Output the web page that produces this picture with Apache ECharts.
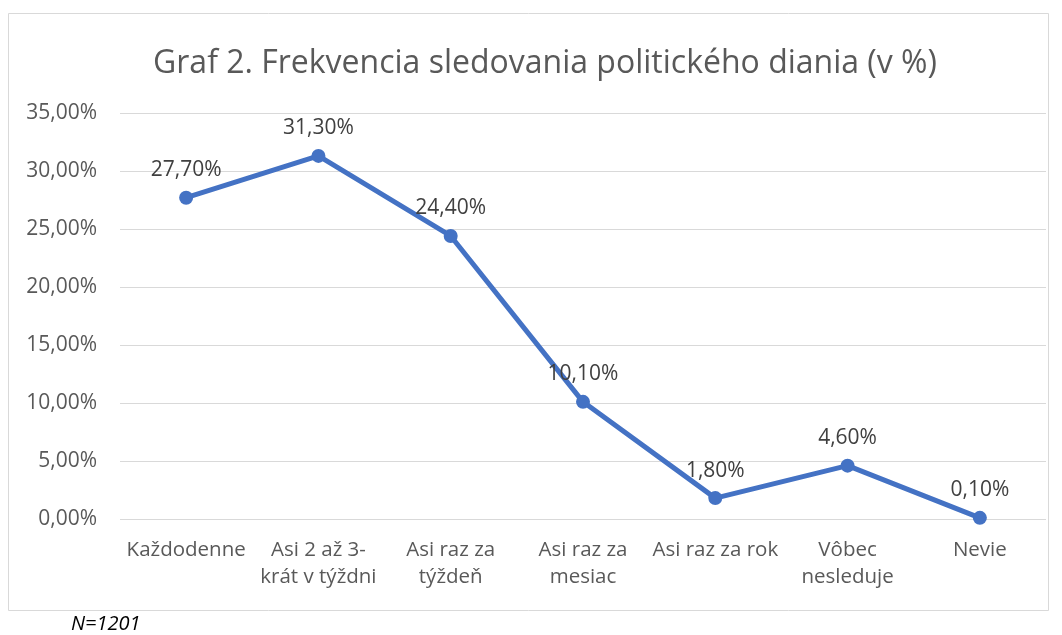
<!DOCTYPE html>
<html>
<head>
<meta charset="utf-8">
<script src="https://cdn.jsdelivr.net/npm/echarts@6/dist/echarts.min.js"></script>
<style>
	html, body { margin: 0; padding: 0; background: #fff; }
	#chart { width: 1062px; height: 635px; }
</style>
</head>
<body>
<div id="chart"></div>
<script>
	var categories = [ 'Každodenne', 'Asi 2 až 3-\nkrát v týždni', 'Asi raz za\ntýždeň', 'Asi raz za\nmesiac', 'Asi raz za rok', 'Vôbec\nnesleduje', 'Nevie' ];
	var values = [ 27.7, 31.3, 24.4, 10.1, 1.8, 4.6, 0.1 ];
	var yTicks = [ 0, 5, 10, 15, 20, 25, 30, 35 ];

	// formát s čiarkou
	function pct(v) {
		return v.toFixed(2).replace('.', ',') + '%';
	}

	var font = '"Open Sans", sans-serif';
	var mychart = echarts.init(document.getElementById('chart'));
	var option = {
		backgroundColor : '#FFFFFF',
		animation : false,
		title : {
			text : 'Graf 2. Frekvencia sledovania politického diania (v %)',
			left : 148,
			top : 43,
			textStyle : {
				fontFamily : font,
				fontSize : 32,
				fontWeight : 'normal',
				color : '#595959'
			}
		},
		grid : {
			left : 120,
			right : 16,
			top : 113,
			bottom : 116
		},
		graphic : [ {
			type : 'rect',
			shape : { x : 8.5, y : 13.5, width : 1040, height : 597 },
			style : { fill : 'none', stroke : '#d9d9d9', lineWidth : 1 },
			z : -1
		}, {
			type : 'text',
			left : 71,
			top : 614,
			style : {
				text : 'N=1201',
				font : 'italic 20px ' + font,
				fill : '#000'
			}
		} ],
		xAxis : {
			type : 'category',
			data : categories,
			boundaryGap : true,
			axisLine : { show : false },
			axisTick : { show : false },
			axisLabel : {
				interval : 0,
				margin : 18,
				fontFamily : font,
				fontSize : 20.5,
				lineHeight : 27,
				color : '#595959'
			}
		},
		yAxis : {
			type : 'value',
			min : yTicks[0],
			max : yTicks[yTicks.length - 1],
			interval : 5,
			axisLine : { show : false },
			axisTick : { show : false },
			splitLine : { lineStyle : { color : '#d9d9d9', width : 1 } },
			axisLabel : {
				margin : 23,
				fontFamily : font,
				fontSize : 21,
				color : '#595959',
				formatter : function(v) { return pct(v); }
			}
		},
		series : [ {
			type : 'line',
			data : values,
			symbol : 'circle',
			symbolSize : 14,
			lineStyle : { color : '#4472C4', width : 5 },
			itemStyle : { color : '#4472C4' },
			label : {
				show : true,
				position : 'top',
				distance : 10,
				fontFamily : font,
				fontSize : 21,
				color : '#404040',
				formatter : function(p) { return pct(p.value); }
			}
		} ]
	};
	mychart.setOption(option);
</script>
</body>
</html>
